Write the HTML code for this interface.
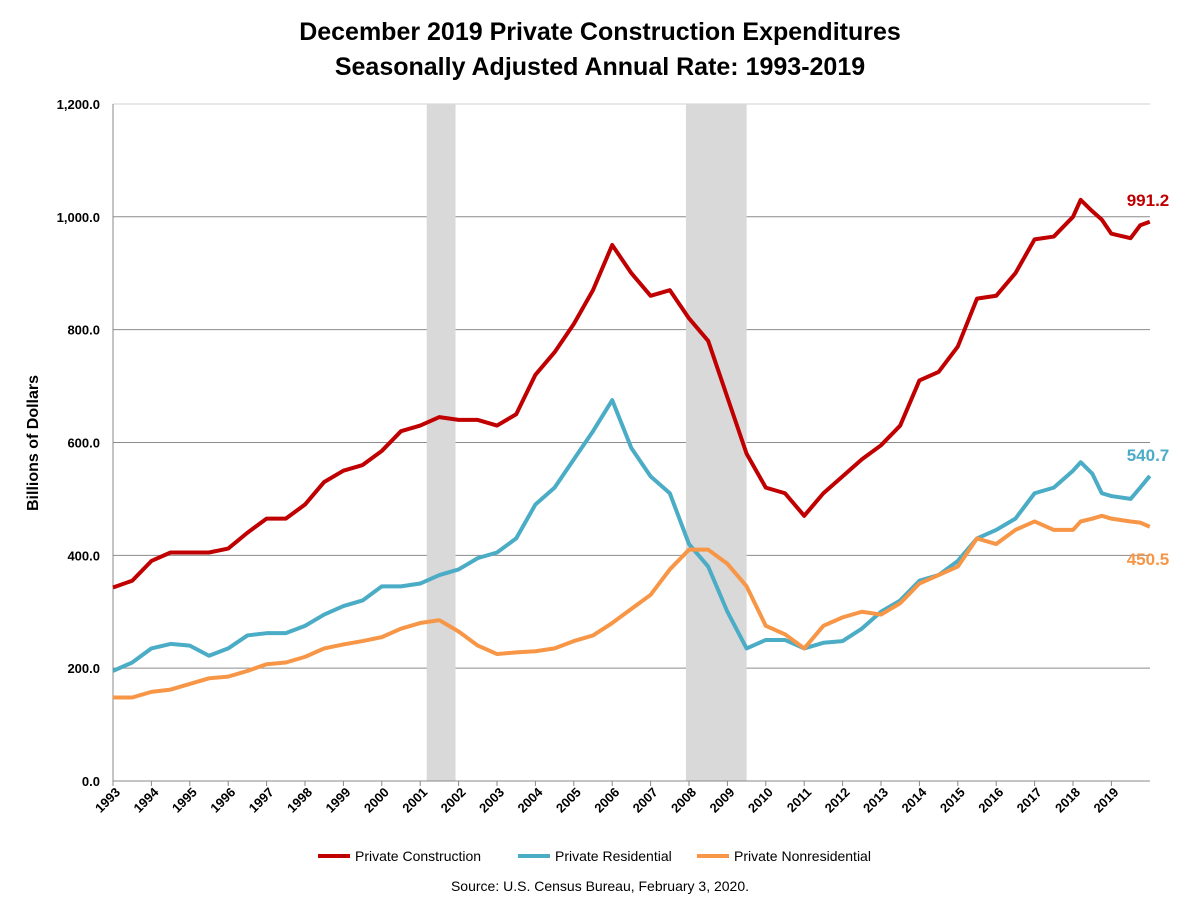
<!DOCTYPE html>
<html><head><meta charset="utf-8">
<style>
body{margin:0;background:#fff;width:1200px;height:914px;overflow:hidden;font-family:"Liberation Sans",Arial,sans-serif;}
</style></head>
<body>
<svg id="chart" width="1200" height="914" xmlns="http://www.w3.org/2000/svg" font-family="Liberation Sans, Arial, sans-serif">
<text x="600" y="40" text-anchor="middle" font-size="25" font-weight="bold">December 2019 Private Construction Expenditures</text>
<text x="600" y="75" text-anchor="middle" font-size="25" font-weight="bold">Seasonally Adjusted Annual Rate: 1993-2019</text>
<text transform="translate(38,443) rotate(-90)" text-anchor="middle" font-size="16" font-weight="bold">Billions of Dollars</text>
<g id="grid"></g><g id="rec"></g><g id="axes"></g><g id="lines"></g><g id="labels"></g>
<g>
<line x1="318" y1="856" x2="350" y2="856" stroke="#c00000" stroke-width="4"/>
<text x="355" y="861" font-size="14">Private Construction</text>
<line x1="518" y1="856" x2="550" y2="856" stroke="#4bacc6" stroke-width="4"/>
<text x="555" y="861" font-size="14">Private Residential</text>
<line x1="697" y1="856" x2="729" y2="856" stroke="#f79646" stroke-width="4"/>
<text x="734" y="861" font-size="14">Private Nonresidential</text>
</g>
<text x="600" y="891" text-anchor="middle" font-size="14">Source: U.S. Census Bureau, February 3, 2020.</text>
</svg>
<script>
const NS="http://www.w3.org/2000/svg";
const times=[1993,1993.5,1994,1994.5,1995,1995.5,1996,1996.5,1997,1997.5,1998,1998.5,1999,1999.5,2000,2000.5,2001,2001.5,2002,2002.5,2003,2003.5,2004,2004.5,2005,2005.5,2006,2006.5,2007,2007.5,2008,2008.5,2009,2009.5,2010,2010.5,2011,2011.5,2012,2012.5,2013,2013.5,2014,2014.5,2015,2015.5,2016,2016.5,2017,2017.5,2018,2018.2,2018.5,2018.75,2019,2019.5,2019.75,2020];
const construction=[343,355,390,405,405,405,412,440,465,465,490,530,550,560,585,620,630,645,640,640,630,650,720,760,810,870,950,900,860,870,820,780,680,580,520,510,470,510,540,570,595,630,710,725,770,855,860,900,960,965,1000,1030,1010,995,970,962,985,991.2];
const residential=[195,210,235,243,240,222,235,258,262,262,275,295,310,320,345,345,350,365,375,395,405,430,490,520,570,620,675,590,540,510,420,380,300,235,250,250,235,245,248,270,300,320,355,365,390,430,445,465,510,520,550,565,545,510,505,500,520,540.7];
const nonresidential=[148,148,158,162,172,182,185,195,207,210,220,235,242,248,255,270,280,285,265,240,225,228,230,235,248,258,280,305,330,375,410,410,385,345,275,260,235,275,290,300,295,315,350,365,380,430,420,445,460,445,445,460,465,470,465,460,458,450.5];
const yTicks=[0,200,400,600,800,1000,1200];
const yearLabels=[1993,1994,1995,1996,1997,1998,1999,2000,2001,2002,2003,2004,2005,2006,2007,2008,2009,2010,2011,2012,2013,2014,2015,2016,2017,2018,2019];
const recessions=[[2001.17,2001.92],[2007.92,2009.5]];
const X=t=>113+(t-1993)*38.4;
const Y=v=>781-v*0.5642;
function mk(tag,attrs,parent){const e=document.createElementNS(NS,tag);for(const k in attrs)e.setAttribute(k,attrs[k]);document.getElementById(parent).appendChild(e);return e;}
yTicks.forEach(v=>{
 if(v>0){const l=mk('line',{x1:113,x2:1150,y1:Y(v),y2:Y(v),stroke:v==1200?'#d0d0d0':'#8c8c8c','stroke-width':1},'grid');
 
 }
 const t=mk('text',{x:100,y:Y(v)+5,'text-anchor':'end','font-size':13,'font-weight':'bold'},'axes');
 t.textContent=v.toFixed(1).replace(/\B(?=(\d{3})+(?!\d))/g,',');
 
 
});
recessions.forEach(r=>{
 const b=mk('rect',{x:X(r[0]),y:Y(1200),width:X(r[1])-X(r[0]),height:Y(0)-Y(1200),fill:'#d9d9d9'},'rec');
 
 
});
mk('line',{x1:113,x2:113,y1:Y(1200),y2:Y(0),stroke:'#888'},'axes');
mk('line',{x1:113,x2:1150,y1:Y(0),y2:Y(0),stroke:'#888'},'axes');
yearLabels.forEach(yr=>{
 mk('line',{x1:X(yr),x2:X(yr),y1:Y(0),y2:Y(0)+5,stroke:'#888'},'axes');
 const t=mk('text',{transform:`translate(${X(yr)+8},${Y(0)+12}) rotate(-45)`,'text-anchor':'end','font-size':13,'font-weight':'bold'},'axes');
 t.textContent=yr;
 
 
});
[[construction,'#c00000','line-private-construction'],[residential,'#4bacc6','line-private-residential'],[nonresidential,'#f79646','line-private-nonresidential']].forEach(s=>{
 const p=mk('polyline',{points:s[0].map((v,i)=>X(times[i])+','+Y(v)).join(' '),fill:'none',stroke:s[1],'stroke-width':4,'stroke-linejoin':'round'},'lines');
 
 
});
[[construction,'#c00000',-16],[residential,'#4bacc6',-15],[nonresidential,'#f79646',38]].forEach(s=>{
 const v=s[0][s[0].length-1];
 const t=mk('text',{x:1148,y:Y(v)+s[2],'text-anchor':'middle','font-size':17,'font-weight':'bold',fill:s[1]},'labels');
 t.textContent=v.toFixed(1);
 
 
});
</script>
</body></html>
